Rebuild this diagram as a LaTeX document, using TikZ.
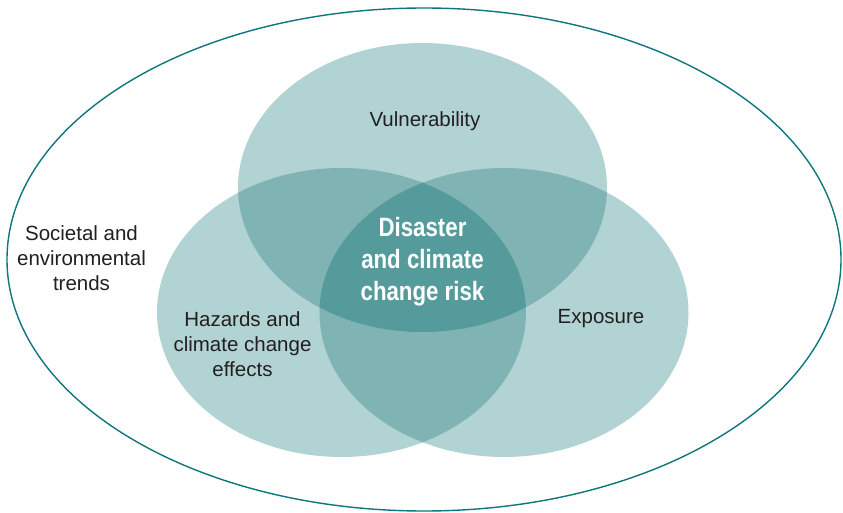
\documentclass[tikz,border=0pt]{standalone}
\usepackage{fontspec}
\setmainfont{Liberation Sans}
\newfontfamily\centrefont[FakeStretch=0.84]{Liberation Sans}
\definecolor{lightc}{HTML}{B2D3D4}
\definecolor{medc}{HTML}{7FB3B4}
\definecolor{darkc}{HTML}{569B9C}
\definecolor{rimc}{HTML}{0E777D}
\definecolor{textc}{HTML}{231F20}
\tikzset{
  lbl/.style={text=textc, align=center, inner sep=0pt, font=\fontsize{20.5}{25}\selectfont},
  centrelbl/.style={text=white, align=center, inner sep=0pt, font=\centrefont\bfseries\fontsize{26.5}{32}\selectfont},
  er/.style={x radius=184.5, y radius=144.5},
}
\begin{document}
\begin{tikzpicture}[x=1pt,y=-1pt]
\useasboundingbox (0,0) rectangle (843,513);
\fill[white] (0,0) rectangle (843,513);
% outer ellipse
\draw[rimc, line width=1.4pt] (424,259.5) ellipse [x radius=417, y radius=251.5];
% three circles
\coordinate (top) at (422.5,187.5);
\coordinate (lft) at (341.5,312.5);
\coordinate (rgt) at (504,312.5);
\fill[lightc] (top) ellipse [er];
\fill[lightc] (lft) ellipse [er];
\fill[lightc] (rgt) ellipse [er];
\begin{scope}
  \clip (top) ellipse [er];
  \fill[medc] (lft) ellipse [er];
  \fill[medc] (rgt) ellipse [er];
\end{scope}
\begin{scope}
  \clip (lft) ellipse [er];
  \fill[medc] (rgt) ellipse [er];
\end{scope}
\begin{scope}
  \clip (top) ellipse [er];
  \clip (lft) ellipse [er];
  \fill[darkc] (rgt) ellipse [er];
\end{scope}
% labels
\node[lbl] (vul) at (425,121) {Vulnerability};
\node[lbl] (exp) at (601,319) {Exposure};
\node[lbl] (haz) at (242.5,344) {Hazards and\\climate change\\effects};
\node[lbl] (soc) at (81.5,258) {Societal and\\environmental\\trends};
\node[centrelbl] (risk) at (422.5,262) {Disaster\\and climate\\change risk};
\end{tikzpicture}
\end{document}
